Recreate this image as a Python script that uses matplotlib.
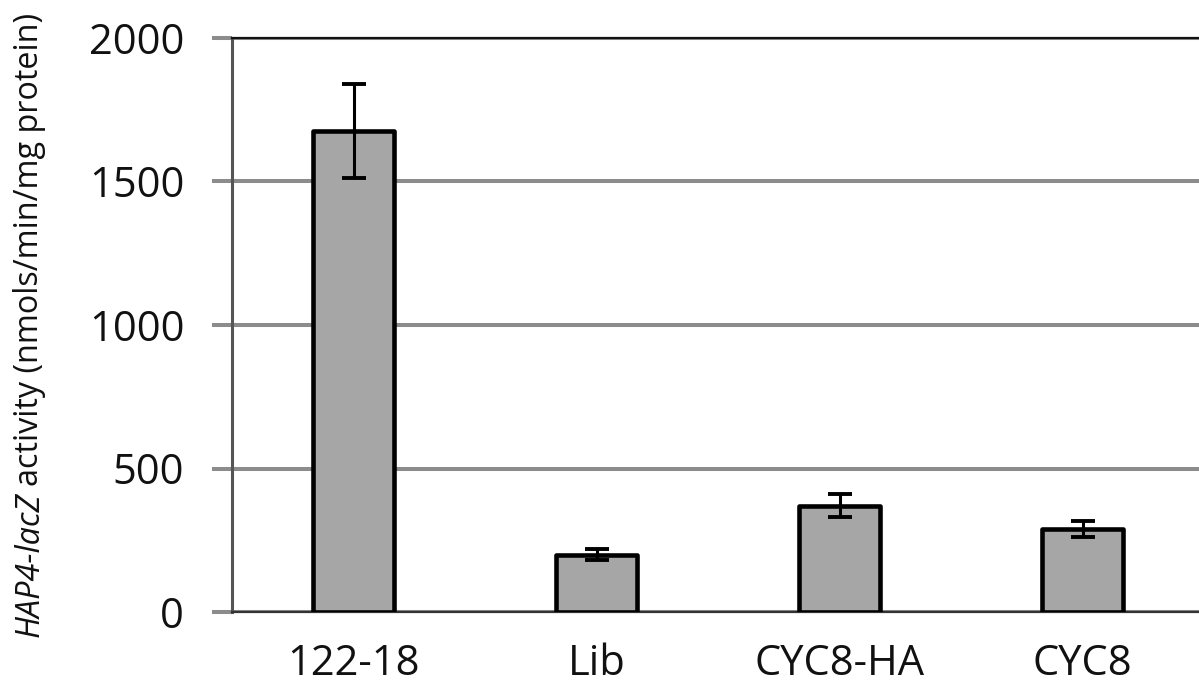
import matplotlib
matplotlib.use("Agg")
import matplotlib.pyplot as plt
import numpy as np

categories = ["122-18", "Lib", "CYC8-HA", "CYC8"]
values = [1675, 200, 370, 290]
errors = [163, 20, 40, 27]
yticks = [0, 500, 1000, 1500, 2000]

W, H = 1199, 685
plt.rcParams['font.family'] = ['Open Sans', 'DejaVu Sans']
fig = plt.figure(figsize=(W / 100, H / 100), dpi=100)

left_px, right_px = 232, 1204
top_px, bot_px = 38, 612
ax = fig.add_axes([left_px / W, 1 - bot_px / H, (right_px - left_px) / W, (bot_px - top_px) / H])

x = np.arange(len(categories))
ax.bar(x, values, width=0.33, color="#a6a6a6", edgecolor="black", linewidth=3.3,
       joinstyle="round", zorder=3)
ax.errorbar(x, values, yerr=errors, fmt="none", ecolor="black", elinewidth=2.2,
            capsize=8.5, capthick=2.8, zorder=4)

ax.set_xlim(-0.5, len(categories) - 0.5)
ax.set_ylim(0, 2000)
ax.set_yticks(yticks)
ax.set_yticklabels([str(v) for v in yticks], fontsize=30, color="#111111")
ax.set_xticks(x)
ax.set_xticklabels(categories, fontsize=30, color="#111111")
ax.tick_params(axis="y", length=14.4, width=2.9, color="#8c8c8c", pad=20)
ax.tick_params(axis="x", length=0, pad=22)

ax.yaxis.grid(True, color="#8c8c8c", linewidth=2.9, zorder=0)
ax.set_axisbelow(True)

ax.spines["right"].set_visible(False)
ax.spines["top"].set_color("#111111")
ax.spines["top"].set_linewidth(1.6)
ax.spines["left"].set_color("#555555")
ax.spines["left"].set_linewidth(2.2)
ax.spines["bottom"].set_color("#333333")
ax.spines["bottom"].set_linewidth(1.6)
for s in ax.spines.values():
    s.set_zorder(2)

# y label with mixed styles
fig.canvas.draw()
r = fig.canvas.get_renderer()
lx = 30 / W
y0 = (H - 637) / H
t1 = fig.text(lx, y0, "HAP4-lacZ", rotation=90, ha="center", va="bottom",
              fontsize=23.3, style="italic", color="#111111")
bb = t1.get_window_extent(renderer=r)
t2 = fig.text(lx, (bb.y1 + 6) / H, "activity (nmols/min/mg protein)", rotation=90,
              ha="center", va="bottom", fontsize=23.3, color="#111111")

fig.savefig("out.png", dpi=100)
